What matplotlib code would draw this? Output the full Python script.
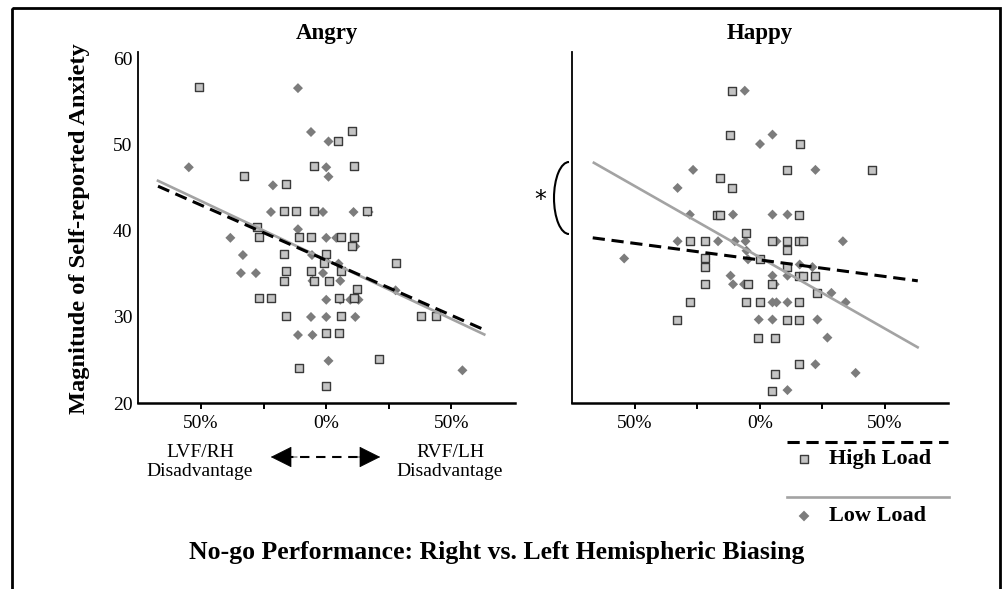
import matplotlib
matplotlib.use("Agg")
import matplotlib.pyplot as plt
from matplotlib.patches import Rectangle, Arc, FancyArrowPatch
from matplotlib.lines import Line2D
import numpy as np

plt.rcParams['font.family'] = ['Liberation Serif', 'DejaVu Serif']

# ---------------- data ----------------
panel_titles = ["Angry", "Happy"]
x_ticks = [-50, -25, 0, 25, 50]
x_tick_labels = ["50%", "", "0%", "", "50%"]
y_ticks = [20, 30, 40, 50, 60]
y_tick_labels = ["20", "30", "40", "50", "60"]

angry_high_x = [-50.7, -32.8, -16, -16.8, -12.1, -4.8, -4.8, 4.7, -27.7, -26.9, -10.7, -6, -16.8, 0, -0.7,
                -16, -6, -16.8, -4.8, 0.9, -26.9, -22, -16, 0, -10.7, 0, 10.1, 10.9, 16.1, 6, 10.9, 10.1,
                27.7, 6, 12.1, 4.9, 10.9, 6, 38, 43.7, 4.9, 20.9]
angry_high_y = [56.7, 46.4, 45.5, 42.3, 42.3, 42.3, 47.5, 50.5, 40.4, 39.3, 39.3, 39.3, 37.3, 37.3, 36.3,
                35.3, 35.3, 34.2, 34.2, 34.2, 32.2, 32.2, 30.1, 28.1, 24.1, 22.0, 51.6, 47.5, 42.3, 39.3, 39.3, 38.3,
                36.3, 35.3, 33.3, 32.2, 32.2, 30.1, 30.1, 30.1, 28.1, 25.1]

angry_low_x = [-11.3, -54.9, -6.1, 0.9, 0, 0.9, -21.3, -22.1, -1.3, -11.3, -38.3, 0, -33.3, -34.1, -28.1,
               -1.3, -5.5, 0, -6.1, 0, -11.3, -5.5, 0.9, -5.7, 10.9, 16.9, 4, 11.6, 4.9, 5.6, 5.6, 9.6,
               12.9, 27.7, 11.6, 54.4]
angry_low_y = [56.6, 47.4, 51.5, 50.4, 47.4, 46.3, 45.3, 42.2, 42.2, 40.2, 39.2, 39.2, 37.2, 35.1, 35.1,
               35.1, 34.2, 32.0, 30.0, 30.0, 27.9, 27.9, 24.9, 37.2, 42.2, 42.2, 39.2, 38.2, 36.2, 34.2, 32.0, 32.0,
               32.0, 33.1, 30.0, 23.8]

happy_high_x = [-11.1, -11.9, -16, -11.1, -17.3, -16, -5.7, -28, -22, 4.9, -22, -22, 0.3, -22, -4.9, 4.9,
                -28, -5.7, 0.3, -33.3, -0.9, 6, 6, 4.9, 16, 11.1, 44.9, 15.7, 11.1, 15.7, 17.3, 11.1, 11.1,
                15.7, 17.3, 22, 23.1, 15.7, 11.1, 15.7, 15.7]
happy_high_y = [56.3, 51.2, 46.1, 45.0, 41.9, 41.9, 39.8, 38.8, 38.8, 38.8, 36.8, 35.8, 36.7, 33.8, 33.8, 33.8,
                31.7, 31.7, 31.7, 29.7, 27.6, 27.6, 23.4, 21.4, 50.1, 47.1, 47.1, 41.9, 38.8, 38.8, 38.8, 37.8, 35.8,
                34.8, 34.8, 34.8, 32.8, 31.7, 29.7, 29.7, 24.5]

happy_low_x = [-6, 5.1, 0.1, -26.7, -32.9, -28, -10.7, 5.1, -32.9, -16.7, -10, -5.7, -54.3, -5.3, -4.7, 5.1,
               -11.7, -10.7, -6.3, 5.1, 6.7, -0.4, 5.1, 22.3, 11.1, 6.7, 33.3, 16, 21.1, 11.1, 6, 28.7, 11.1,
               34.4, 23.1, 27.1, 22.3, 38.4, 11.1]
happy_low_y = [56.3, 51.2, 50.1, 47.1, 45.0, 41.9, 41.9, 41.9, 38.8, 38.8, 38.8, 38.8, 36.8, 37.7, 36.7, 34.8,
               34.8, 33.8, 33.8, 31.7, 31.7, 29.7, 29.7, 47.1, 41.9, 38.8, 38.8, 36.1, 35.8, 34.8, 33.8, 32.8, 31.7,
               31.7, 29.7, 27.6, 24.5, 23.5, 21.5]

# regression line end points
angry_high_fit_x = [-67.2, 63.2]
angry_high_fit_y = [45.2, 28.5]
angry_low_fit_x = [-67.7, 63.6]
angry_low_fit_y = [45.9, 27.9]
happy_high_fit_x = [-66.9, 63.3]
happy_high_fit_y = [39.2, 34.2]
happy_low_fit_x = [-66.9, 63.7]
happy_low_fit_y = [48.0, 26.4]

legend_labels = ["High Load", "Low Load"]

# ---------------- styles ----------------
W, H = 1005, 589
SQ_FACE = "#c4c4c4"
SQ_EDGE = "#3a3a3a"
DI_COLOR = "#7c7c7c"
LOW_LINE = "#a3a3a3"
DASH = (0, (4.0, 2.2))

fig = plt.figure(figsize=(W / 100, H / 100), dpi=100)

def px_axes(x0, y0, x1, y1):
    return [x0 / W, 1 - y1 / H, (x1 - x0) / W, (y1 - y0) / H]

# overlay in pixel coordinates for annotations
ov = fig.add_axes([0, 0, 1, 1])
ov.set_xlim(0, W)
ov.set_ylim(H, 0)
ov.axis("off")
ov.set_zorder(-1)

ax1 = fig.add_axes(px_axes(138, 52, 515, 403))
ax2 = fig.add_axes(px_axes(572, 52, 948, 403))

panels = [
    (ax1, angry_high_x, angry_high_y, angry_low_x, angry_low_y,
     angry_high_fit_x, angry_high_fit_y, angry_low_fit_x, angry_low_fit_y),
    (ax2, happy_high_x, happy_high_y, happy_low_x, happy_low_y,
     happy_high_fit_x, happy_high_fit_y, happy_low_fit_x, happy_low_fit_y),
]

for i, (ax, hx, hy, lx, ly, hfx, hfy, lfx, lfy) in enumerate(panels):
    ax.scatter(lx, ly, marker="D", s=26, color=DI_COLOR, edgecolors="none", zorder=2)
    ax.scatter(hx, hy, marker="s", s=32, facecolor=SQ_FACE, edgecolors=SQ_EDGE, linewidths=1.0, zorder=3)
    ax.plot(lfx, lfy, color=LOW_LINE, lw=1.9, zorder=4, solid_capstyle="butt")
    ax.plot(hfx, hfy, color="black", lw=2.2, linestyle=DASH, zorder=5)
    ax.set_xlim(-75.2, 75.4)
    ax.set_ylim(20, 60.8)
    ax.set_xticks(x_ticks)
    ax.set_xticklabels(x_tick_labels, fontsize=14)
    ax.set_yticks(y_ticks)
    if i == 0:
        ax.set_yticklabels(y_tick_labels, fontsize=14)
    else:
        ax.set_yticklabels([])
    ax.tick_params(axis="x", direction="out", length=4, width=1.4, pad=5, colors="black")
    ax.tick_params(axis="y", length=0, pad=4)
    for s in ["top", "right"]:
        ax.spines[s].set_visible(False)
    ax.spines["left"].set_linewidth(1.3)
    ax.spines["bottom"].set_linewidth(1.8)
    ax.patch.set_alpha(0)
    ax.set_title(panel_titles[i], fontsize=16.5, fontweight="bold", pad=9.5)

# figure border
ov.add_patch(Rectangle((12, 8), 988, 600, fill=False, edgecolor="black", lw=2.0))

# y label
ov.text(80, 229, "Magnitude of Self-reported Anxiety", rotation=90, ha="center", va="center",
        fontsize=17.6, fontweight="bold")

# bottom direction labels
ov.text(200, 462, "LVF/RH\nDisadvantage", ha="center", va="center", fontsize=14, linespacing=1.15)
ov.text(450, 462, "RVF/LH\nDisadvantage", ha="center", va="center", fontsize=14, linespacing=1.15)
ov.add_line(Line2D([284, 368], [457, 457], color="black", lw=1.5, linestyle=(0, (4.5, 3.2))))
ov.add_patch(FancyArrowPatch((300, 457), (268, 457), arrowstyle="-|>,head_length=14,head_width=7",
                             mutation_scale=1, color="black", lw=0.5))
ov.add_patch(FancyArrowPatch((350, 457), (383, 457), arrowstyle="-|>,head_length=14,head_width=7",
                             mutation_scale=1, color="black", lw=0.5))

# significance bracket
ov.add_patch(Arc((569, 198), 30, 72, theta1=90, theta2=270, color="black", lw=1.5))
ov.text(540, 200, "*", ha="center", va="center", fontsize=17, family="DejaVu Sans")

# legend
ov.add_line(Line2D([787, 948], [442, 442], color="black", lw=2.2, linestyle=DASH))
ov.scatter([804], [459], marker="s", s=40, facecolor=SQ_FACE, edgecolors=SQ_EDGE, linewidths=1.0)
ov.text(829, 459, legend_labels[0], ha="left", va="center", fontsize=16, fontweight="bold")
ov.add_line(Line2D([787, 949], [497, 497], color=LOW_LINE, lw=1.9))
ov.scatter([804], [516], marker="D", s=30, color=DI_COLOR, edgecolors="none")
ov.text(829, 516, legend_labels[1], ha="left", va="center", fontsize=16, fontweight="bold")

# bottom title
ov.text(497, 553, "No-go Performance: Right vs. Left Hemispheric Biasing", ha="center", va="center",
        fontsize=18.5, fontweight="bold")

fig.savefig("out.png", dpi=100)
